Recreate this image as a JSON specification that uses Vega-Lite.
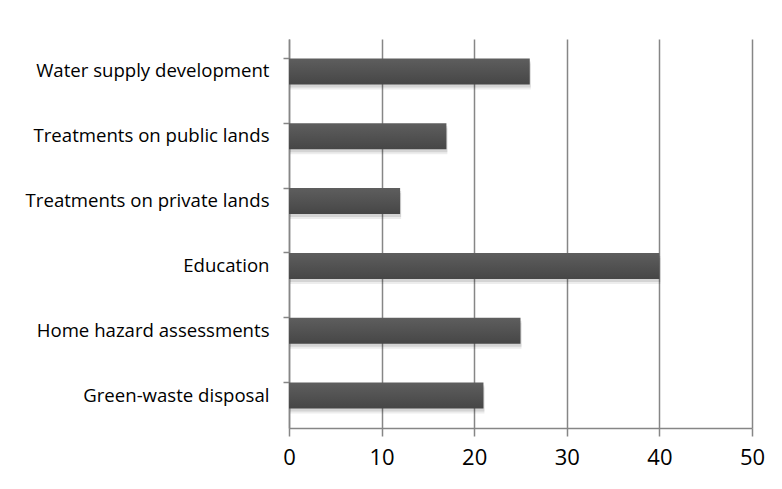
{
  "$schema": "https://vega.github.io/schema/vega-lite/v6.json",
  "width": 463,
  "height": 389,
  "padding": {"left": 8, "top": 39, "right": 5, "bottom": 10},
  "background": "white",
  "data": {
    "values": [
      {"category": "Water supply development", "value": 26},
      {"category": "Treatments on public lands", "value": 17},
      {"category": "Treatments on private lands", "value": 12},
      {"category": "Education", "value": 40},
      {"category": "Home hazard assessments", "value": 25},
      {"category": "Green-waste disposal", "value": 21}
    ]
  },
  "encoding": {
    "y": {
      "field": "category",
      "type": "nominal",
      "sort": null,
      "title": null,
      "scale": {"paddingInner": 0.6, "paddingOuter": 0.3},
      "axis": {
        "bandPosition": 0,
        "minExtent": 281,
        "maxExtent": 281,
        "domainColor": "#868686",
        "domainWidth": 1.5,
        "tickColor": "#868686",
        "tickWidth": 1.5,
        "tickSize": 6,
        "labelPadding": 14,
        "labelFont": "Open Sans",
        "labelFontSize": 18.6,
        "labelColor": "#000000",
        "labelLimit": 400
      }
    },
    "x": {
      "field": "value",
      "type": "quantitative",
      "title": null,
      "scale": {"domain": [0, 50], "nice": false},
      "axis": {
        "values": [0, 10, 20, 30, 40, 50],
        "grid": true,
        "gridColor": "#868686",
        "gridWidth": 1.5,
        "domainColor": "#868686",
        "domainWidth": 1.5,
        "tickColor": "#868686",
        "tickWidth": 1.5,
        "tickSize": 8,
        "labelFlush": false,
        "labelPadding": 11,
        "labelFont": "Open Sans",
        "labelFontSize": 22,
        "labelColor": "#000000"
      }
    }
  },
  "layer": [
    {
      "mark": {"type": "bar", "color": "#000000", "opacity": 0.1, "xOffset": 1, "x2Offset": 4, "yOffset": 3, "y2Offset": 3}
    },
    {
      "mark": {"type": "bar", "color": "#000000", "opacity": 0.07, "xOffset": 1, "x2Offset": 6, "yOffset": 5, "y2Offset": 5}
    },
    {
      "mark": {
        "type": "bar",
        "color": {
          "gradient": "linear",
          "x1": 0, "y1": 0, "x2": 0, "y2": 1,
          "stops": [
            {"offset": 0, "color": "#5e5e5e"},
            {"offset": 1, "color": "#464646"}
          ]
        }
      }
    }
  ],
  "config": {
    "view": {"stroke": null}
  }
}
